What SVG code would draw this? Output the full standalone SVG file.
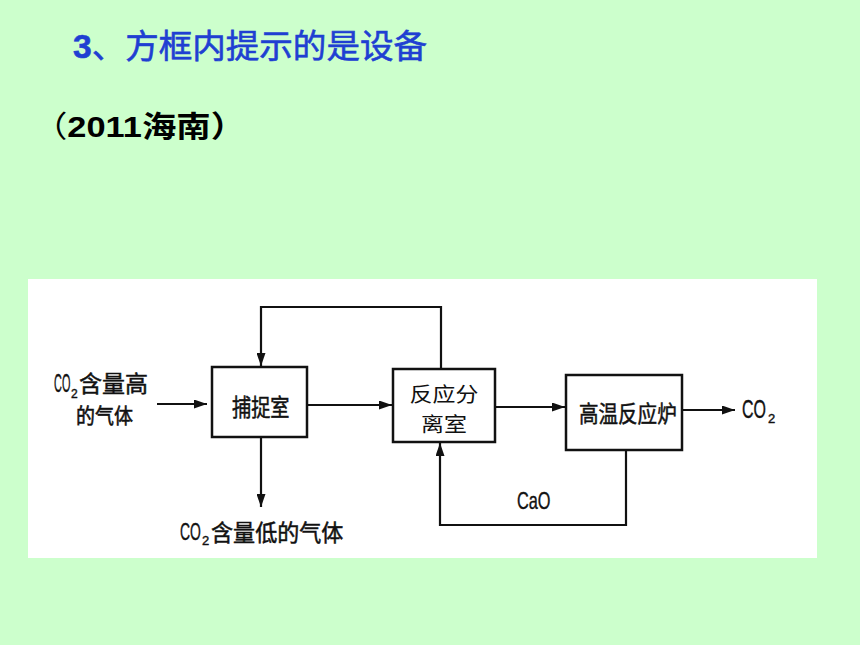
<svg xmlns="http://www.w3.org/2000/svg" width="860" height="645" viewBox="0 0 860 645">
<defs>
<style>
.bg{fill:#ccffcc}
.panel{fill:#ffffff}
.box{fill:#ffffff;stroke:#111111;stroke-width:2.5}
.ln{fill:none;stroke:#111111;stroke-width:2.2}
.t{font-family:"Noto Sans CJK SC","Liberation Sans",sans-serif;fill:#111111}
.s{font-family:"Noto Sans CJK SC","Liberation Sans",sans-serif;fill:#111111;stroke:#111111;stroke-width:0.5}
.l{font-family:"Liberation Sans","Noto Sans CJK SC",sans-serif;fill:#111111;stroke:#111111;stroke-width:0.4}
.title{font-family:"Noto Sans CJK SC","Liberation Sans",sans-serif;fill:#1f3fd2;stroke:#1f3fd2;stroke-width:0.6}
.sub{font-family:"Noto Sans CJK SC","Liberation Sans",sans-serif;fill:#000000}
</style>
<marker id="arr" markerUnits="userSpaceOnUse" markerWidth="13" markerHeight="9" refX="13" refY="4.5" orient="auto">
<path d="M0,0 L13,4.5 L0,9 z" fill="#111111"/>
</marker>
</defs>
<rect class="bg" x="0" y="0" width="860" height="645"/>
<text class="title" x="73" y="58" font-size="33" textLength="354" lengthAdjust="spacingAndGlyphs"><tspan font-family="Liberation Sans, sans-serif" font-weight="bold">3</tspan>、方框内提示的是设备</text>
<text class="sub" x="33" y="137" font-size="30" textLength="212" lengthAdjust="spacingAndGlyphs">（<tspan font-family="Liberation Sans, sans-serif" font-weight="bold">2011</tspan><tspan font-weight="bold">海南）</tspan></text>
<rect class="panel" x="28" y="279" width="789" height="279"/>
<g id="connectors">
<path class="ln" d="M157,404 L207,404" marker-end="url(#arr)"/>
<path class="ln" d="M441,369 L441,307 L261,307 L261,366" marker-end="url(#arr)"/>
<path class="ln" d="M307,405 L392,405" marker-end="url(#arr)"/>
<path class="ln" d="M261,437 L261,507" marker-end="url(#arr)"/>
<path class="ln" d="M495,407 L565,407" marker-end="url(#arr)"/>
<path class="ln" d="M682,410 L735,410" marker-end="url(#arr)"/>
<path class="ln" d="M626,450 L626,525 L440,525 L440,443" marker-end="url(#arr)"/>
</g>
<g id="input">
<text class="l" transform="translate(54,392) scale(0.42,1)" x="0" y="0" font-size="26">CO</text>
<text class="l" x="71" y="398" font-size="12">2</text>
<text class="s" x="79" y="392" font-size="23">含量高</text>
<text class="s" x="76" y="423" font-size="19" transform="translate(76,423) scale(1,1.1) translate(-76,-423)">的气体</text>
</g>
<g id="capture">
<rect class="box" x="212" y="367" width="95" height="70"/>
<text class="s" transform="translate(232,416) scale(0.8,1)" x="0" y="0" font-size="24">捕捉室</text>
</g>
<g id="lowgas">
<text class="l" transform="translate(180,540) scale(0.58,1)" x="0" y="0" font-size="24">CO</text>
<text class="l" x="202" y="545" font-size="13">2</text>
<text class="s" transform="translate(211,541) scale(0.96,1)" x="0" y="0" font-size="23">含量低的气体</text>
</g>
<g id="separator">
<rect class="box" x="393" y="369" width="102" height="73"/>
<text class="t" transform="translate(444,401.5) scale(1.12,1)" x="0" y="0" font-size="20.5" text-anchor="middle">反应分</text>
<text class="t" transform="translate(444,431.5) scale(1.12,1)" x="0" y="0" font-size="20.5" text-anchor="middle">离室</text>
</g>
<g id="furnace">
<rect class="box" x="566" y="375" width="116" height="75"/>
<text class="s" transform="translate(579,422) scale(0.85,1)" x="0" y="0" font-size="23">高温反应炉</text>
</g>
<g id="co2out">
<text class="l" transform="translate(742,418) scale(0.64,1)" x="0" y="0" font-size="25">CO</text>
<text class="l" x="768" y="423" font-size="13">2</text>
</g>
<g id="cao">
<text class="l" transform="translate(517,509) scale(0.68,1)" x="0" y="0" font-size="24">CaO</text>
</g>
</svg>
